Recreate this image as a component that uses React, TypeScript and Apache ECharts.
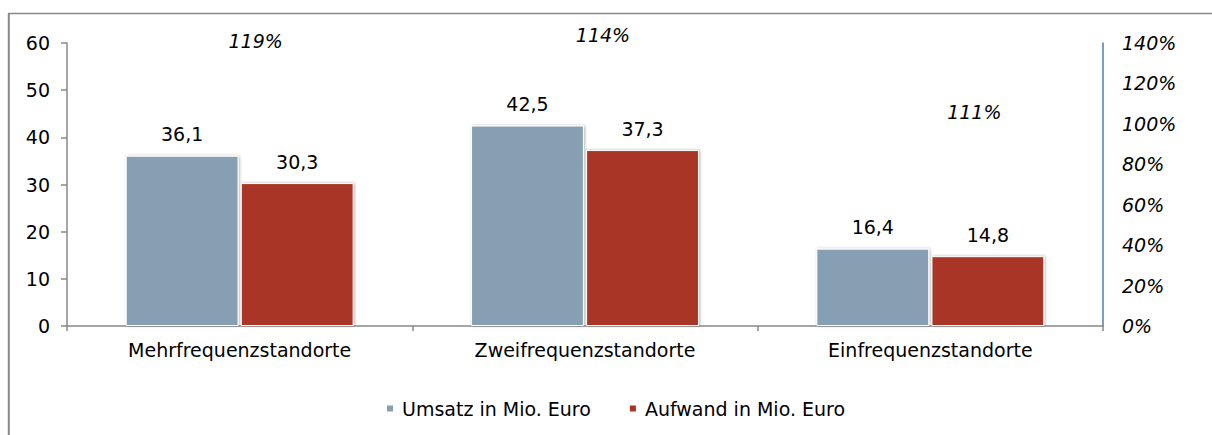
import React, { useEffect, useRef } from "react";
import * as echarts from "echarts";

const categories = ["Mehrfrequenzstandorte", "Zweifrequenzstandorte", "Einfrequenzstandorte"];
const umsatz = [36.1, 42.5, 16.4];
const aufwand = [30.3, 37.3, 14.8];
const ratio = [119, 114, 111];
const ratioLabelOffsets = [
  [16, -44],
  [18, -61],
  [44, 10],
];
const leftTicks = { min: 0, max: 60, interval: 10 };
const rightTicks = { min: 0, max: 140, interval: 20 };

const FONT = "DejaVu Sans, Liberation Sans, Arial, sans-serif";
const FS = 19;
const BLUE = "#879fb2";
const RED = "#a93525";

const fmt = (v: number) => v.toFixed(1).replace(".", ",");

export default function App() {
  const ref = useRef<HTMLDivElement>(null);
  useEffect(() => {
    document.body.style.margin = "0";
    const chart = echarts.init(ref.current!, null, { renderer: "svg" });
    const barStyle = (color: string) => ({
      color,
      borderColor: "#ffffff",
      borderWidth: 1,
      shadowColor: "rgba(0,0,0,0.3)",
      shadowBlur: 3,
      shadowOffsetX: 1,
      shadowOffsetY: 0,
    });
    const barLabel = {
      show: true,
      position: "top",
      distance: 12,
      fontFamily: FONT,
      fontSize: FS,
      color: "#000",
      formatter: (p: any) => fmt(p.value),
    };
    chart.setOption({
      animation: false,
      textStyle: { fontFamily: FONT },
      graphic: [
        { type: "line", shape: { x1: 8, y1: 13.5, x2: 1212, y2: 13.5 }, style: { stroke: "#888", lineWidth: 1.5 } },
        { type: "line", shape: { x1: 8.8, y1: 13, x2: 8.8, y2: 435 }, style: { stroke: "#888", lineWidth: 2 } },
      ],
      grid: { left: 67, right: 109, top: 43, bottom: 109 },
      legend: {
        left: 380,
        top: 394,
        icon: "rect",
        itemWidth: 8,
        itemHeight: 8,
        itemGap: 37,
        data: ["Umsatz in Mio. Euro", "Aufwand in Mio. Euro"],
        textStyle: { fontFamily: FONT, fontSize: FS, color: "#000", padding: [0, 0, 0, 3] },
      },
      xAxis: {
        type: "category",
        data: categories,
        axisLine: { lineStyle: { color: "#888", width: 1.5 } },
        axisTick: { show: true, length: 5, lineStyle: { color: "#888", width: 1.5 } },
        axisLabel: { fontFamily: FONT, fontSize: FS, color: "#000", margin: 14 },
      },
      yAxis: [
        {
          type: "value",
          ...leftTicks,
          axisLine: { show: true, lineStyle: { color: "#888", width: 1.5 } },
          axisTick: { show: true, length: 6, lineStyle: { color: "#888", width: 1.5 } },
          axisLabel: { fontFamily: FONT, fontSize: FS, color: "#000", margin: 17 },
          splitLine: { show: false },
        },
        {
          type: "value",
          ...rightTicks,
          position: "right",
          axisLine: { show: true, lineStyle: { color: "#4a7ebb", width: 1.5 } },
          axisTick: { show: false },
          axisLabel: {
            fontFamily: FONT,
            fontSize: FS,
            fontStyle: "italic",
            color: "#000",
            margin: 19,
            formatter: "{value}%",
          },
          splitLine: { show: false },
        },
      ],
      series: [
        {
          name: "Umsatz in Mio. Euro",
          type: "bar",
          data: umsatz,
          barGap: "2%",
          barCategoryGap: "34%",
          itemStyle: barStyle(BLUE),
          label: barLabel,
        },
        {
          name: "Aufwand in Mio. Euro",
          type: "bar",
          data: aufwand,
          itemStyle: barStyle(RED),
          label: barLabel,
        },
        {
          name: "Verhältnis",
          type: "scatter",
          yAxisIndex: 1,
          symbolSize: 0,
          silent: true,
          itemStyle: { opacity: 1, color: "#000" },
          data: ratio.map((v, i) => ({
            value: v,
            label: { offset: ratioLabelOffsets[i] },
          })),
          label: {
            show: true,
            position: "inside",
            fontFamily: FONT,
            fontSize: FS,
            fontStyle: "italic",
            color: "#000",
            opacity: 1,
            formatter: (p: any) => p.value + "%",
          },
        },
      ],
    });
    return () => chart.dispose();
  }, []);
  return <div ref={ref} style={{ width: 1212, height: 435 }} />;
}
